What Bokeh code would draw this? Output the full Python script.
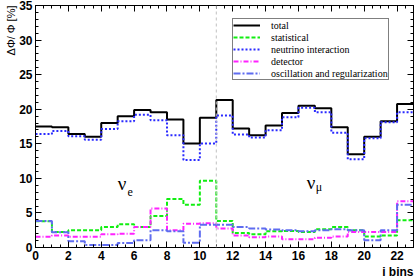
from bokeh.plotting import figure
from bokeh.models import (Range1d, SingleIntervalTicker, LinearAxis, Span, Label, Title,
                          CustomJSTickFormatter)
from bokeh.embed import file_html
from bokeh.resources import INLINE

# ---- data ----
bin_edges = list(range(0, 24))
total = [17.5, 17.4, 16.4, 16.0, 18.0, 19.0, 19.9, 19.55, 18.5, 15.05, 18.75, 21.35,
         17.2, 16.25, 17.65, 19.45, 20.5, 20.15, 17.4, 13.5, 16.0, 18.25, 20.75]
statistical = [3.8, 2.25, 2.5, 2.5, 2.95, 3.35, 2.95, 4.55, 7.0, 6.2, 9.65, 3.85,
               2.1, 1.9, 2.35, 2.4, 2.25, 2.65, 2.95, 2.5, 1.6, 1.75, 3.95]
neutrino = [16.4, 16.85, 16.1, 15.6, 17.15, 18.25, 19.2, 18.4, 16.25, 12.65, 15.05, 19.1,
            16.35, 15.9, 16.95, 18.85, 20.2, 19.55, 16.6, 12.75, 15.8, 18.1, 19.55]
detector = [1.55, 1.75, 1.55, 1.55, 1.9, 2.0, 2.95, 5.65, 2.5, 3.45, 3.5, 2.75,
            1.75, 1.5, 1.6, 1.2, 1.2, 1.4, 1.6, 2.25, 2.25, 2.25, 6.7]
oscillation = [3.85, 2.2, 0.9, 0.35, 0.35, 0.65, 1.05, 2.5, 2.35, 0.7, 3.3, 3.3,
               2.95, 2.75, 2.6, 2.5, 2.35, 2.5, 2.65, 2.5, 1.05, 2.5, 6.2]
series_names = ["total", "statistical", "neutrino interaction", "detector",
                "oscillation and regularization"]
divider_bin = 11
x_title = "i bins"
y_title = "ΔΦ/ Φ [%]"

TICK_FONT = "Liberation Sans"
SERIF = "Liberation Serif"

p = figure(width=415, height=278, x_range=Range1d(0, 23), y_range=Range1d(0, 35),
           output_backend="svg", toolbar_location=None,
           min_border_left=35, min_border_right=2, min_border_top=5, min_border_bottom=29,
           background_fill_color="white", border_fill_color="white")
p.outline_line_color = "black"
p.outline_line_width = 1
p.xgrid.grid_line_color = None
p.ygrid.grid_line_color = None


def style_axis(ax, labels=True):
    ax.axis_line_color = "black"
    ax.axis_line_width = 1
    ax.major_tick_line_color = "black"
    ax.minor_tick_line_color = "black"
    ax.major_tick_in = 6
    ax.major_tick_out = 0
    ax.minor_tick_in = 3
    ax.minor_tick_out = 0
    if labels:
        ax.major_label_text_font = TICK_FONT
        ax.major_label_text_font_style = "bold"
        ax.major_label_text_font_size = "12px"
        ax.major_label_text_color = "black"
        ax.major_label_standoff = 3
    else:
        ax.formatter = CustomJSTickFormatter(code="return ''")
        ax.major_label_text_font_size = "1px"
        ax.major_label_standoff = 0


p.xaxis.ticker = SingleIntervalTicker(interval=2, num_minor_ticks=4)
p.yaxis.ticker = SingleIntervalTicker(interval=5, num_minor_ticks=5)
style_axis(p.xaxis[0])
style_axis(p.yaxis[0])

top_ax = LinearAxis(ticker=SingleIntervalTicker(interval=2, num_minor_ticks=4))
style_axis(top_ax, labels=False)
p.add_layout(top_ax, "above")
right_ax = LinearAxis(ticker=SingleIntervalTicker(interval=5, num_minor_ticks=5))
style_axis(right_ax, labels=False)
p.add_layout(right_ax, "right")

# axis titles, ROOT style (flush with the far end of the axis)
p.add_layout(Title(text=y_title, align="right", text_font=TICK_FONT,
                   text_font_style="normal", text_font_size="11px", text_color="black",
                   standoff=0, offset=0), "left")
p.add_layout(Title(text=x_title, align="right", text_font=TICK_FONT,
                   text_font_style="bold", text_font_size="12px", text_color="black",
                   standoff=0, offset=0), "below")

# divider between nu_e and nu_mu
p.add_layout(Span(location=divider_bin, dimension="height", line_color="#c0c0c0",
                  line_dash="3 3", line_width=1))


def ext(v):
    return list(v) + [v[-1]]


styles = [
    (total, "black", "solid", 2),
    (statistical, "#11ee11", "4 2", 2),
    (neutrino, "#2a2aff", "2 2", 2),
    (detector, "#ff22ff", "5 2 1 2", 2),
    (oscillation, "#5f6cf0", "7 2 2 2", 2),
]
for (vals, col, dash, w), name in zip(styles, series_names):
    p.step(x=bin_edges, y=ext(vals), mode="after", line_color=col, line_dash=dash,
           line_width=w, legend_label=name)

lg = p.legend[0]
lg.location = (197, 167)
lg.border_line_color = "black"
lg.border_line_width = 1
lg.background_fill_color = "white"
lg.background_fill_alpha = 1
lg.padding = 0
lg.spacing = 0
lg.margin = 0
lg.label_height = 12
lg.glyph_height = 12
lg.glyph_width = 27
lg.label_standoff = 11
lg.label_width = 114
lg.label_text_font = SERIF
lg.label_text_font_size = "10px"
lg.label_text_color = "black"

# flavour labels
p.add_layout(Label(x=5.0, y=9.3, text="ν", text_font=SERIF, text_font_size="19px",
                   text_baseline="alphabetic", text_align="left", text_color="black"))
p.add_layout(Label(x=5.6, y=8.0, text="e", text_font=SERIF, text_font_size="12px",
                   text_baseline="alphabetic", text_align="left", text_color="black"))
p.add_layout(Label(x=16.5, y=9.4, text="ν", text_font=SERIF, text_font_size="19px",
                   text_baseline="alphabetic", text_align="left", text_color="black"))
p.add_layout(Label(x=17.05, y=8.7, text="μ", text_font=SERIF, text_font_size="12px",
                   text_baseline="alphabetic", text_align="left", text_color="black"))

open("out.html", "w").write(file_html(p, INLINE))
